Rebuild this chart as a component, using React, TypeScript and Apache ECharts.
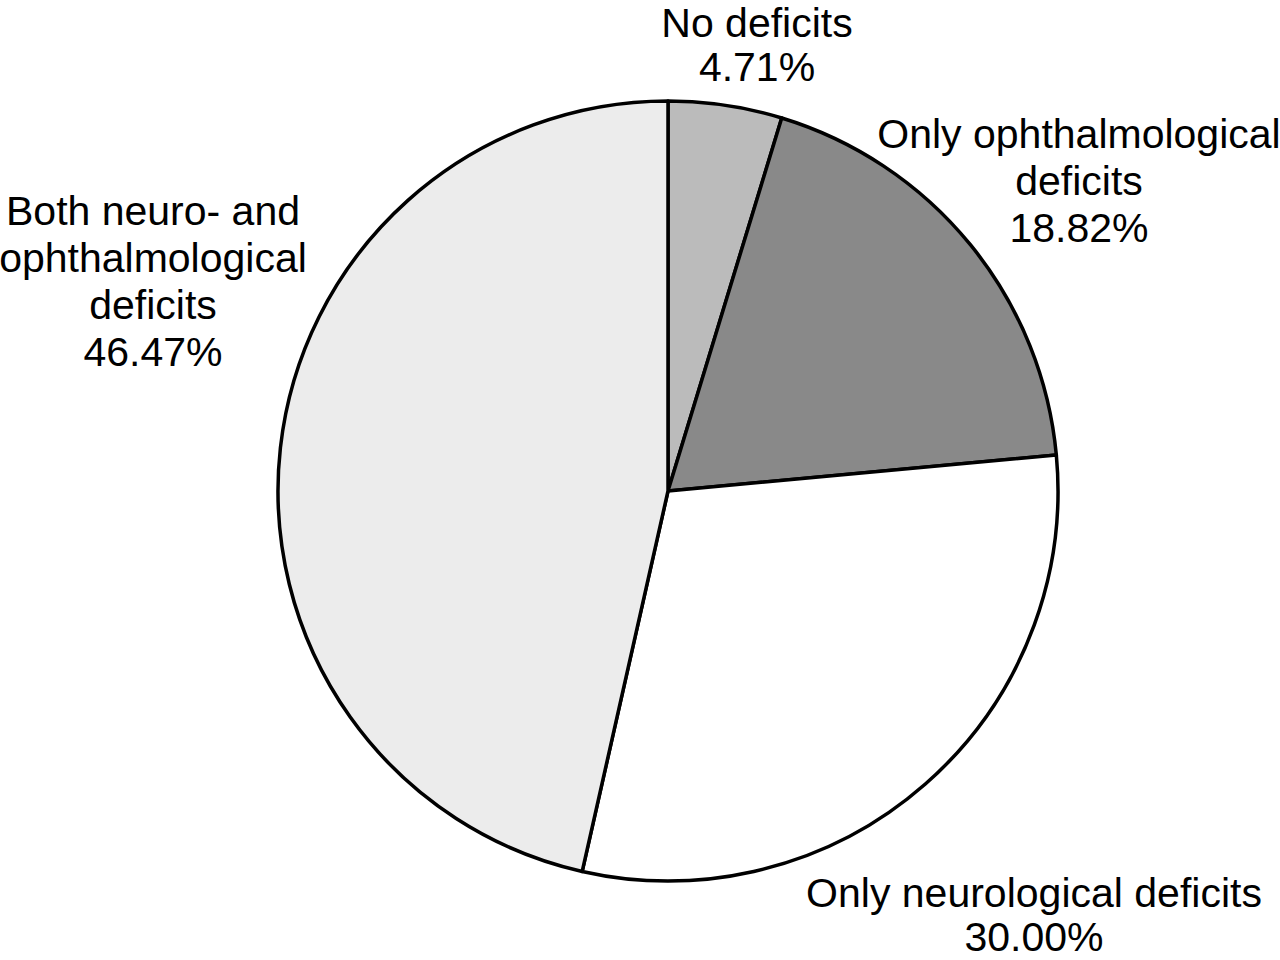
import React, { useEffect, useRef } from "react";
import * as echarts from "echarts";

const categories = [
  "No deficits",
  "Only ophthalmological deficits",
  "Only neurological deficits",
  "Both neuro- and ophthalmological deficits",
];
const labelLines = [
  ["No deficits"],
  ["Only ophthalmological", "deficits"],
  ["Only neurological deficits"],
  ["Both neuro- and", "ophthalmological", "deficits"],
];
const values = [4.71, 18.82, 30.0, 46.47];
const colors = ["#bbbbbb", "#898989", "#ffffff", "#ececec"];
// label anchor (center x, top y, line height) in pixels
const labelPos = [
  [757, 1, 44],
  [1079, 110, 47],
  [1034, 871, 44],
  [153, 187, 47],
];

export default function App() {
  const ref = useRef<HTMLDivElement>(null);
  useEffect(() => {
    if (!ref.current) return;
    const chart = echarts.init(ref.current, null, { renderer: "svg" });
    chart.setOption({
      animation: false,
      backgroundColor: "#ffffff",
      series: [
        {
          type: "pie",
          center: [668, 491],
          radius: 390,
          startAngle: 90,
          clockwise: true,
          label: { show: false },
          labelLine: { show: false },
          itemStyle: { borderColor: "#000000", borderWidth: 3.5 },
          emphasis: { disabled: true },
          data: categories.map((c, i) => ({
            name: c,
            value: values[i],
            itemStyle: { color: colors[i] },
          })),
        },
      ],
      graphic: categories.map((c, i) => ({
        type: "text",
        x: labelPos[i][0],
        y: labelPos[i][1],
        style: {
          text: [...labelLines[i], values[i].toFixed(2) + "%"].join("\n"),
          fontFamily: "Liberation Sans, Arial, sans-serif",
          fontSize: 41,
          lineHeight: labelPos[i][2],
          fill: "#000000",
          align: "center",
          verticalAlign: "top",
        },
      })),
    });
    return () => chart.dispose();
  }, []);
  return (
    <div
      ref={ref}
      style={{ position: "fixed", left: 0, top: 0, width: 1280, height: 960 }}
    />
  );
}
